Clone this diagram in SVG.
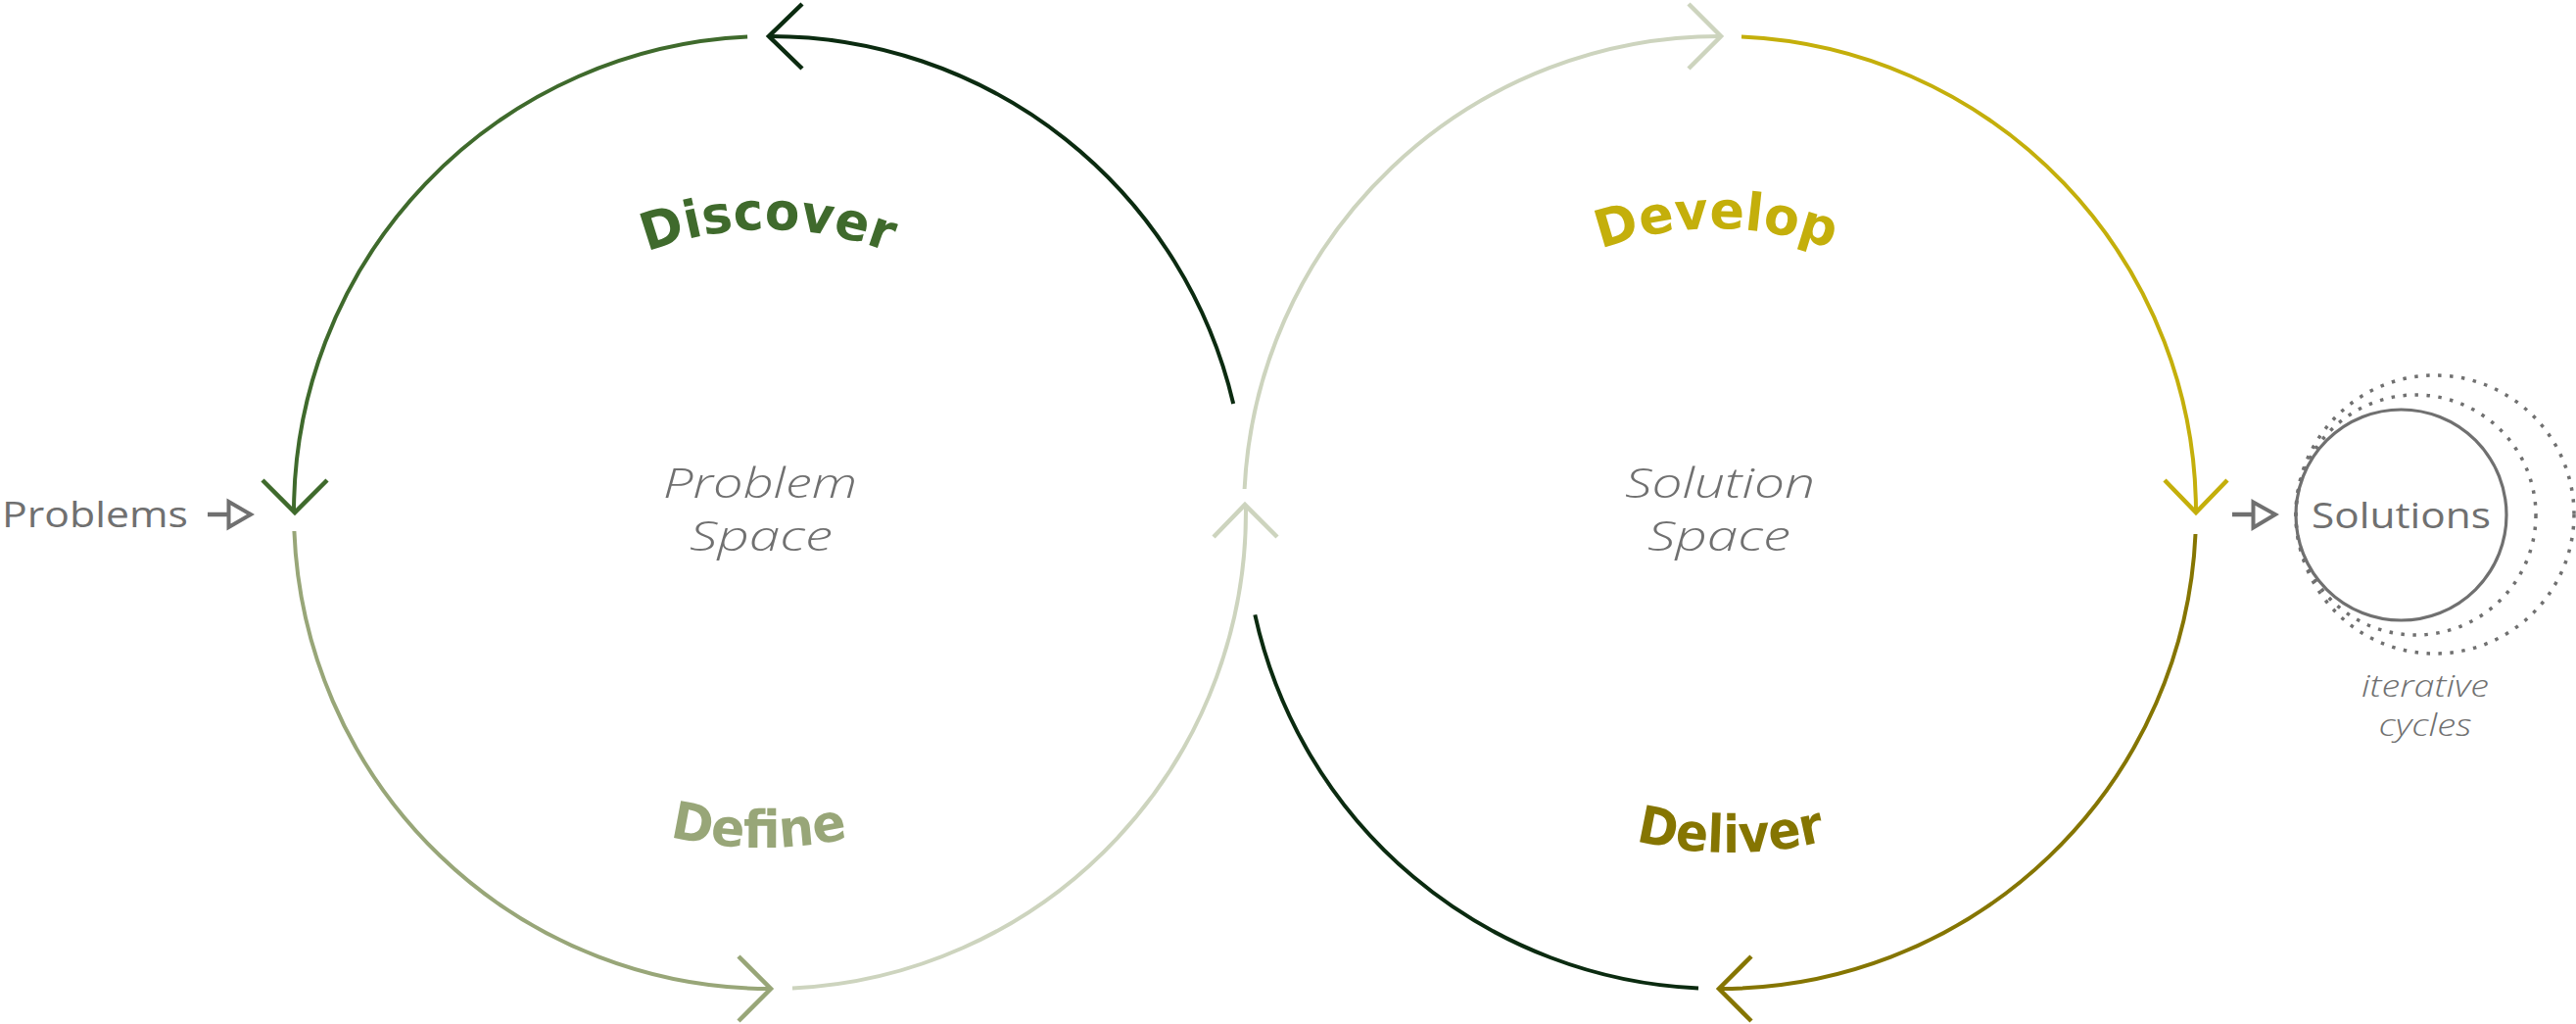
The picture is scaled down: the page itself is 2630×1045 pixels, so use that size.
<svg xmlns="http://www.w3.org/2000/svg" width="2630" height="1045" viewBox="0 0 2630 1045">
<style>
  .arc { fill: none; stroke-width: 4; stroke-linecap: butt; }
  .head { fill: none; stroke-width: 4.5; stroke-linejoin: miter; stroke-linecap: butt; }
  .green { stroke: #3F6A2C; }
  .dark { stroke: #0B2B10; }
  .define { stroke: #98A678; }
  .pale { stroke: #CDD4BE; }
  .yellow { stroke: #C4AF0B; }
  .olive { stroke: #857501; }
  .phase { font-family: "DejaVu Sans", "Open Sans", sans-serif; font-weight: 700; font-size: 53px; }
  .space { font-family: "Open Sans", "Lato", sans-serif; font-weight: 300; font-style: italic; font-size: 43px; fill: #707070; text-anchor: middle; }
  .io { font-family: "Open Sans", "Lato", sans-serif; font-weight: 400; font-size: 37px; fill: #707070; }
  .note { font-family: "Open Sans", "Lato", sans-serif; font-weight: 300; font-style: italic; font-size: 31px; fill: #707070; text-anchor: middle; }
  .gline { stroke: #707070; stroke-width: 4.5; fill: none; }
  .gtri { stroke: #707070; stroke-width: 4; fill: #ffffff; stroke-linejoin: miter; }
  .dots { fill: none; stroke: #707070; stroke-width: 3.5; stroke-dasharray: 3.5 8.5; }
</style>
<defs>
  <path id="p-discover" d="M489.6,404 A340,340 0 0 1 1078.4,404"/>
  <path id="p-develop" d="M1457.6,403 A340,340 0 0 1 2046.4,403"/>
  <path id="p-define" d="M431.6,665 A400,400 0 0 0 1124.4,665"/>
  <path id="p-deliver" d="M1420.6,670 A400,400 0 0 0 2113.4,670"/>
</defs>
<rect x="0" y="0" width="2630" height="1045" fill="#ffffff"/>

<g id="connectors">
  <!-- left circle -->
  <path class="arc green" d="M763.1,37.5 A486,486 0 0 0 300,523"/>
  <path class="arc define" d="M300.4,542 A486,486 0 0 0 786,1009"/>
  <path class="arc pale" d="M809,1008.5 A486,486 0 0 0 1271.9,515"/>
  <path class="arc dark" d="M1259.2,412 A486,486 0 0 0 786,37"/>
  <!-- right circle -->
  <path class="arc pale" d="M1270.6,499 A486,486 0 0 1 1756,37"/>
  <path class="arc yellow" d="M1778,37.5 A486,486 0 0 1 2242,523"/>
  <path class="arc olive" d="M2241.5,545 A486,486 0 0 1 1756,1009"/>
  <path class="arc dark" d="M1734,1008.5 A486,486 0 0 1 1281.3,627.4"/>
  <!-- arrowheads -->
  <polyline class="head dark" points="819,4 785,37 819,70"/>
  <polyline class="head green" points="268,490 301,523 334,490"/>
  <polyline class="head define" points="754,976 787,1009 754,1042"/>
  <polyline class="head pale" points="1239,548 1271,515 1304,548"/>
  <polyline class="head pale" points="1724,4 1757,37 1724,70"/>
  <polyline class="head yellow" points="2210,490 2242,523 2274,490"/>
  <polyline class="head olive" points="1788,976 1755,1009 1788,1042"/>
  <!-- input / output arrows -->
  <line class="gline" x1="212" y1="525" x2="234" y2="525"/>
  <polygon class="gtri" points="233.5,512 256,525 233.5,538"/>
  <line class="gline" x1="2279" y1="525" x2="2301" y2="525"/>
  <polygon class="gtri" points="2300.5,512.5 2323,525 2300.5,538.5"/>
</g>

<g id="problems">
  <text class="io" x="2" y="538" textLength="190" lengthAdjust="spacingAndGlyphs">Problems</text>
</g>

<g id="problem-space">
  <text class="space" x="776" y="508" textLength="198" lengthAdjust="spacingAndGlyphs">Problem</text>
  <text class="space" x="777" y="562" textLength="146" lengthAdjust="spacingAndGlyphs">Space</text>
</g>

<g id="solution-space">
  <text class="space" x="1756" y="508" textLength="194" lengthAdjust="spacingAndGlyphs">Solution</text>
  <text class="space" x="1755" y="562" textLength="146" lengthAdjust="spacingAndGlyphs">Space</text>
</g>

<g id="discover">
  <text class="phase" fill="#3F6A2C" text-anchor="middle"><textPath href="#p-discover" startOffset="50%" textLength="252" lengthAdjust="spacingAndGlyphs">Discover</textPath></text>
</g>
<g id="develop">
  <text class="phase" fill="#C4AF0B" text-anchor="middle"><textPath href="#p-develop" startOffset="50%" textLength="240" lengthAdjust="spacingAndGlyphs">Develop</textPath></text>
</g>
<g id="define">
  <text class="phase" fill="#98A678" text-anchor="middle"><textPath href="#p-define" startOffset="49.6%" textLength="184" lengthAdjust="spacingAndGlyphs">Define</textPath></text>
</g>
<g id="deliver">
  <text class="phase" fill="#857501" text-anchor="middle"><textPath href="#p-deliver" startOffset="50%" textLength="196" lengthAdjust="spacingAndGlyphs">Deliver</textPath></text>
</g>

<g id="solutions">
  <circle class="dots" cx="2486" cy="525" r="142"/>
  <circle class="dots" cx="2466.5" cy="525.5" r="122.5"/>
  <circle cx="2451.5" cy="525.5" r="107.5" fill="none" stroke="#707070" stroke-width="3.2"/>
  <text class="io" x="2451.5" y="539" text-anchor="middle" textLength="183" lengthAdjust="spacingAndGlyphs">Solutions</text>
  <text class="note" x="2476" y="711" textLength="130" lengthAdjust="spacingAndGlyphs">iterative</text>
  <text class="note" x="2476" y="751" textLength="95" lengthAdjust="spacingAndGlyphs">cycles</text>
</g>
</svg>
